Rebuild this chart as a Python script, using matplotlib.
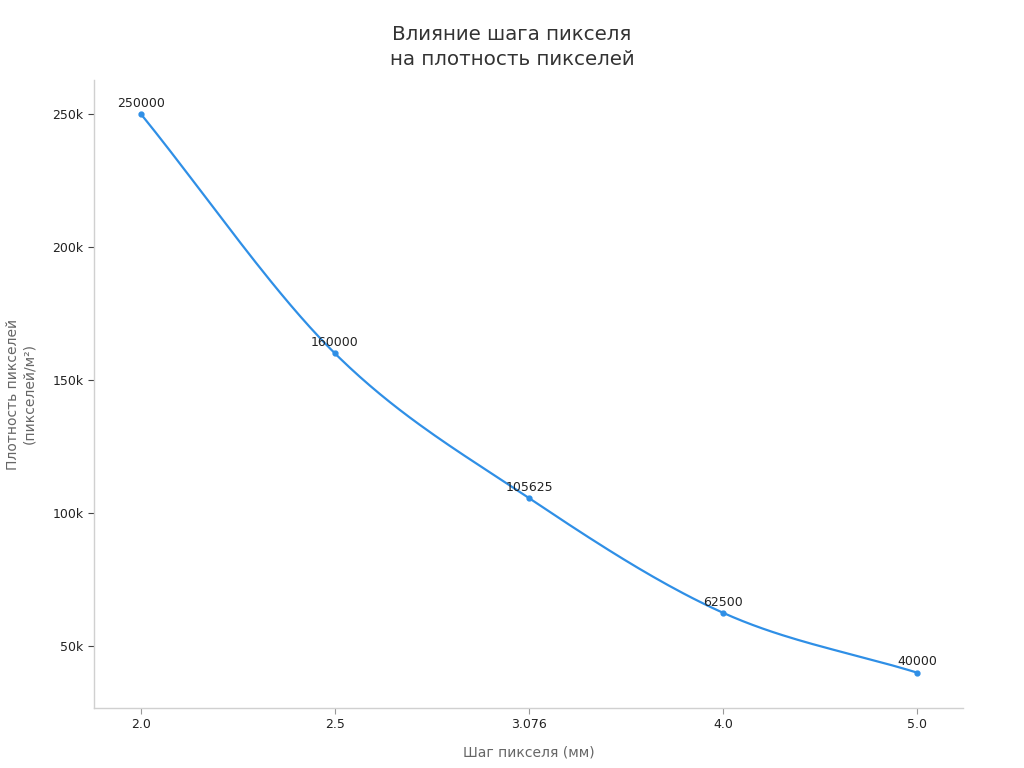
import numpy as np
import matplotlib.pyplot as plt
from matplotlib.ticker import FuncFormatter

pitch_labels = ["2.0", "2.5", "3.076", "4.0", "5.0"]
density = [250000, 160000, 105625, 62500, 40000]

line_color = "#2f8fe6"


def smooth_curve(xs, ys, steps=40):
    # catmull-rom through the points, just for drawing the line
    xs = np.asarray(xs, dtype=float)
    ys = np.asarray(ys, dtype=float)
    px = np.concatenate([[2 * xs[0] - xs[1]], xs, [2 * xs[-1] - xs[-2]]])
    py = np.concatenate([[2 * ys[0] - ys[1]], ys, [2 * ys[-1] - ys[-2]]])
    out_x, out_y = [], []
    t = np.linspace(0, 1, steps)
    for i in range(1, len(px) - 2):
        for p, out in ((px, out_x), (py, out_y)):
            p0, p1, p2, p3 = p[i - 1], p[i], p[i + 1], p[i + 2]
            seg = 0.5 * ((2 * p1) + (-p0 + p2) * t
                         + (2 * p0 - 5 * p1 + 4 * p2 - p3) * t ** 2
                         + (-p0 + 3 * p1 - 3 * p2 + p3) * t ** 3)
            out.extend(seg)
    return np.array(out_x), np.array(out_y)


fig = plt.figure(figsize=(10.24, 7.68), dpi=100)
ax = fig.add_axes([94 / 1024, 60 / 768, (963 - 94) / 1024, (708 - 80) / 768])

x = np.arange(len(pitch_labels))
sx, sy = smooth_curve(x, density)
ax.plot(sx, sy, color=line_color, linewidth=1.6)
ax.plot(x, density, "o", color=line_color, markersize=3.5)

for xi, v in zip(x, density):
    ax.annotate(str(v), (xi, v), xytext=(0, 3), textcoords="offset points",
                ha="center", va="bottom", fontsize=9, color="#222222")

ax.set_xticks(x)
ax.set_xticklabels(pitch_labels)
ax.set_xlim(-0.242, 4.237)
ax.set_ylim(26700, 262800)
ax.set_yticks([50000, 100000, 150000, 200000, 250000])
ax.yaxis.set_major_formatter(FuncFormatter(lambda v, p: f"{int(v / 1000)}k"))

for side in ("top", "right"):
    ax.spines[side].set_visible(False)
for side in ("left", "bottom"):
    ax.spines[side].set_color("#d0d0d0")
    ax.spines[side].set_linewidth(1)
ax.tick_params(axis="both", labelsize=9, colors="#222222", length=4, width=0.8)
ax.tick_params(axis="x", color="#999999")
ax.tick_params(axis="y", color="#444444")

ax.set_xlabel("Шаг пикселя (мм)", fontsize=10, color="#666666", labelpad=10)
ax.set_ylabel("Плотность пикселей\n(пикселей/м²)", fontsize=10, color="#666666",
              labelpad=12, linespacing=1.2)
fig.suptitle("Влияние шага пикселя\nна плотность пикселей", fontsize=14.3,
             color="#333333", y=0.968, linespacing=1.45)

fig.savefig("out.png", dpi=100)
